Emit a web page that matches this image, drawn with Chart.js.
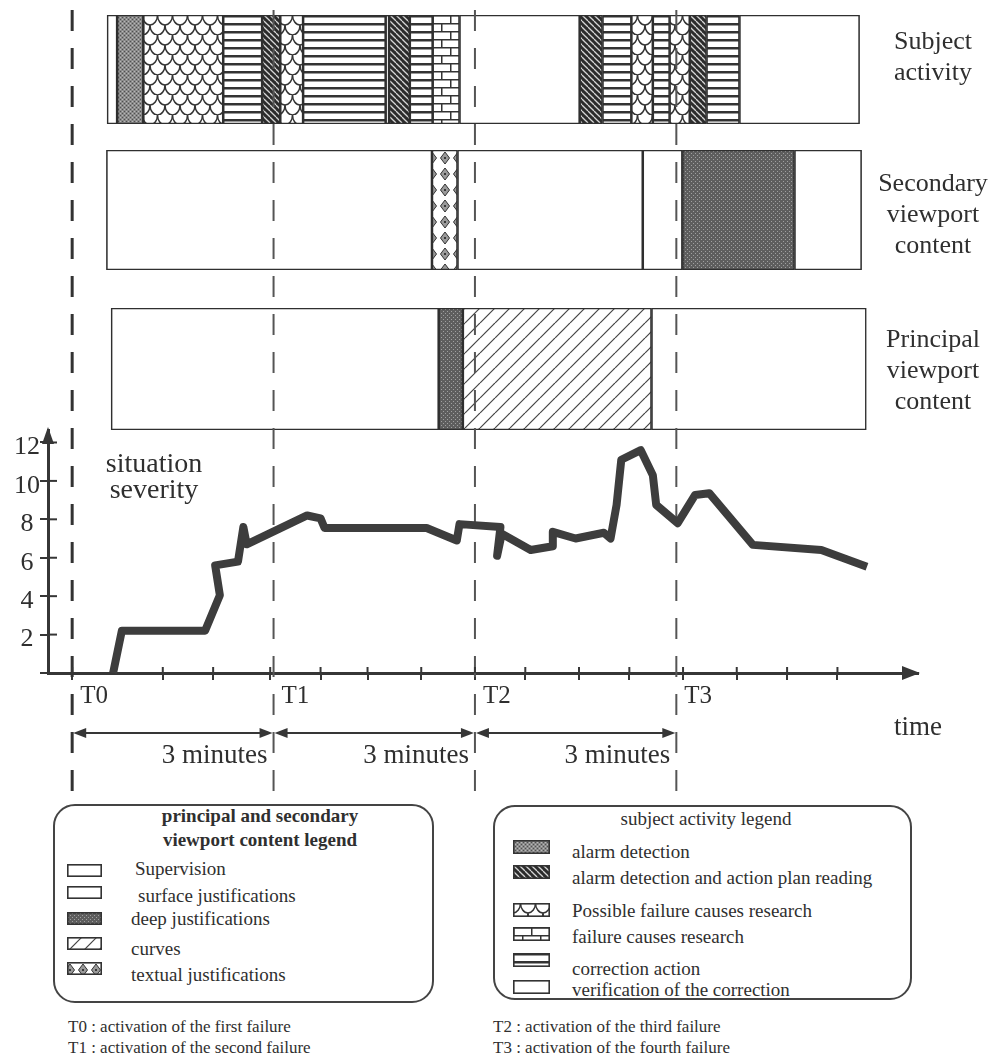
<!DOCTYPE html>
<html>
<head>
<meta charset="utf-8">
<script src="https://cdn.jsdelivr.net/npm/chart.js@4.4.1/dist/chart.umd.min.js"></script>
<style>
html,body{margin:0;padding:0;background:#fff;}
#page{position:relative;width:997px;height:1062px;overflow:hidden;background:#fff;
  font-family:"Liberation Serif","DejaVu Serif",serif;color:#2f2f2f;}
#page canvas{position:absolute;left:0;}
.lbl{position:absolute;text-align:center;font-size:26px;line-height:31px;white-space:nowrap;}
.box{position:absolute;border:2px solid #444;border-radius:22px;box-sizing:border-box;}
.t{position:absolute;white-space:nowrap;line-height:1;}
</style>
</head>
<body>
<div id="page">
  <canvas id="s1" width="997" height="109" style="top:15px"></canvas>
  <canvas id="s2" width="997" height="120" style="top:150px"></canvas>
  <canvas id="s3" width="997" height="122" style="top:308px"></canvas>
  <canvas id="sev" width="997" height="800" style="top:0;z-index:5"></canvas>
</div>
<script>
// ================= DATA =================
// time in minutes after T0
const timeTicks = [0, 1.35, 2.1, 2.95, 3.7, 4.4, 5.2, 6.0, 6.75, 7.55, 8.3, 9.1, 9.9, 10.65, 11.4];
const severityTicks = [0, 2, 4, 6, 8, 10, 12];
const failureTimes = [0, 3, 6, 9];
const failureLabels = ['T0', 'T1', 'T2', 'T3'];
const intervalLabel = '3 minutes';

const severityTime  = [0.61, 0.74, 1.98, 2.20, 2.13, 2.47, 2.55, 2.60, 3.05, 3.50, 3.70, 3.76, 5.28, 5.73, 5.77, 6.38, 6.33, 6.40, 6.83, 7.16, 7.16, 7.50, 7.92, 8.02, 8.11, 8.18, 8.47, 8.65, 8.70, 9.02, 9.28, 9.49, 10.14, 11.16, 11.84];
const severityValue = [0,    2.2,  2.2,  4.05, 5.6,  5.8,  7.6,  6.7,  7.45, 8.2,  8.05, 7.55, 7.55, 6.9,  7.75, 7.6,  6.1,  7.25, 6.4,  6.6,  7.35, 7.0,  7.3,  7.0,  8.75, 11.1, 11.6, 10.3, 8.75, 7.8,  9.27, 9.36, 6.67, 6.4,  5.53];

const stripLabels = [['Subject', 'activity'], ['Secondary', 'viewport', 'content'], ['Principal', 'viewport', 'content']];

const subjectBounds   = [0.52, 0.67, 1.06, 2.25, 2.83, 3.10, 3.44, 4.67, 4.72, 5.03, 5.37, 5.77, 7.56, 7.90, 8.33, 8.65, 8.90, 9.20, 9.45, 9.94, 11.73];
const subjectActivity = ['verification', 'alarm', 'possible', 'correction', 'alarmPlan', 'possible', 'correction', 'verification', 'alarmPlan', 'correction', 'failure', 'verification', 'alarmPlan', 'correction', 'possible', 'correction', 'possible', 'alarmPlan', 'correction', 'verification'];

const secondaryBounds  = [0.51, 5.36, 5.74, 8.50, 9.09, 10.76, 11.76];
const secondaryContent = ['supervision', 'textual', 'surface', 'supervision', 'deep', 'supervision'];

const principalBounds  = [0.58, 5.46, 5.82, 8.63, 11.83];
const principalContent = ['supervision', 'deep', 'curves', 'supervision'];

const viewportLegendTitle  = ['principal and secondary', 'viewport content legend'];
const viewportLegendTypes  = ['supervision', 'surface', 'deep', 'curves', 'textual'];
const viewportLegendLabels = ['Supervision', 'surface justifications', 'deep justifications', 'curves', 'textual justifications'];

const activityLegendTitle  = 'subject activity legend';
const activityLegendTypes  = ['alarm', 'alarmPlan', 'possible', 'failure', 'correction', 'verification'];
const activityLegendLabels = ['alarm detection', 'alarm detection and action plan reading', 'Possible failure causes research', 'failure causes research', 'correction action', 'verification of the correction'];

const footLeft  = ['T0 : activation of the first failure', 'T1 : activation of the second failure'];
const footRight = ['T2 : activation of the third failure', 'T3 : activation of the fourth failure'];

// ================= STYLE =================
const X_MIN = -0.36, X_MAX = 12.6;
const INK = '#363636';
const SERIF = '"Liberation Serif", "DejaVu Serif", serif';
Chart.defaults.font.family = SERIF;
Chart.defaults.color = '#2f2f2f';

function tile(w, h, draw) {
  const c = document.createElement('canvas'); c.width = w; c.height = h;
  const g = c.getContext('2d'); g.fillStyle = '#fff'; g.fillRect(0, 0, w, h); draw(g, w, h); return c;
}
const TILES = {
  alarm: tile(4, 4, g => { g.fillStyle = '#8a8a8a'; g.fillRect(0, 0, 4, 4); g.fillStyle = '#505050'; g.fillRect(0, 0, 1, 1); g.fillRect(2, 2, 1, 1); g.fillStyle = '#b8b8b8'; g.fillRect(2, 0, 1, 1); g.fillRect(0, 2, 1, 1); }),
  deep: tile(4, 4, g => { g.fillStyle = '#5e5e5e'; g.fillRect(0, 0, 4, 4); g.fillStyle = '#a0a0a0'; g.fillRect(1, 1, 1, 1); g.fillRect(3, 3, 1, 1); }),
  alarmPlan: tile(6, 6, g => { g.fillStyle = '#2c2c2c'; g.fillRect(0, 0, 6, 6); g.strokeStyle = '#d5d5d5'; g.lineWidth = 1.3; for (const k of [-6, 0, 6]) { g.beginPath(); g.moveTo(k, 0); g.lineTo(k + 6, 6); g.stroke(); } }),
  curves: tile(15, 15, g => { g.strokeStyle = '#444'; g.lineWidth = 1.2; for (const k of [-15, 0, 15]) { g.beginPath(); g.moveTo(k, 15); g.lineTo(k + 15, 0); g.stroke(); } }),
  correction: tile(8, 8, g => { g.fillStyle = '#333'; g.fillRect(0, 0, 8, 2.5); }),
  possible: tile(15, 20, g => { g.strokeStyle = '#333'; g.lineWidth = 1.5; for (const [cx, cy] of [[0, 0], [15, 0], [7.5, 10]]) { g.beginPath(); g.ellipse(cx, cy, 7.5, 10, 0, 0, Math.PI); g.stroke(); } }),
  failure: tile(18, 16, g => { g.strokeStyle = '#333'; g.lineWidth = 1.5; g.beginPath(); g.moveTo(0, 0.75); g.lineTo(18, 0.75); g.moveTo(0, 8.75); g.lineTo(18, 8.75); g.moveTo(0.75, 0); g.lineTo(0.75, 8.75); g.moveTo(9.75, 8.75); g.lineTo(9.75, 16); g.stroke(); }),
  textual: tile(13, 16, g => { for (const cx of [3, 16]) { g.beginPath(); g.moveTo(cx, 2); g.lineTo(cx + 4.5, 8); g.lineTo(cx, 14); g.lineTo(cx - 4.5, 8); g.closePath(); g.fillStyle = '#9a9a9a'; g.fill(); g.strokeStyle = '#333'; g.lineWidth = 1; g.stroke(); g.fillStyle = '#3a3a3a'; g.fillRect(cx - 1, 7, 2, 2); } })
};
function fillFor(ctx, type) { return TILES[type] ? ctx.createPattern(TILES[type], 'repeat') : '#ffffff'; }

// ================= STRIPS =================
function stripChart(id, labelLines, bounds, types) {
  const ctx = document.getElementById(id).getContext('2d');
  const label = labelLines.join(' ');
  return new Chart(ctx, {
    type: 'bar',
    data: {
      labels: [label],
      datasets: [{
        data: types.map((t, i) => ({ x: [bounds[i], bounds[i + 1]], y: label })),
        backgroundColor: types.map(t => fillFor(ctx, t)),
        borderColor: '#2f2f2f', borderWidth: 1.6, borderSkipped: false,
        barPercentage: 1, categoryPercentage: 1
      }]
    },
    options: {
      indexAxis: 'y', responsive: false, animation: false, events: [],
      layout: { padding: { left: 48, right: 79, top: 0, bottom: 0 } },
      plugins: { legend: { display: false }, tooltip: { enabled: false } },
      scales: {
        x: { type: 'linear', min: X_MIN, max: X_MAX, display: false },
        y: { type: 'category', display: false }
      }
    }
  });
}
stripChart('s1', stripLabels[0], subjectBounds, subjectActivity);
stripChart('s2', stripLabels[1], secondaryBounds, secondaryContent);
stripChart('s3', stripLabels[2], principalBounds, principalContent);

// ================= SEVERITY =================
const sevDecor = {
  id: 'sevDecor',
  beforeDatasetsDraw(chart) {
    const { ctx, scales: { x } } = chart;
    ctx.save();
    failureTimes.forEach((t, i) => {
      const px = x.getPixelForValue(t);
      ctx.beginPath(); ctx.setLineDash([21, 17]);
      ctx.lineWidth = i === 0 ? 3 : 2; ctx.strokeStyle = i === 0 ? '#333' : '#555';
      ctx.moveTo(px, 10); ctx.lineTo(px, 795); ctx.stroke();
    });
    ctx.restore();
  },
  afterDraw(chart) {
    const { ctx, chartArea: a, scales: { x, y } } = chart;
    ctx.save();
    ctx.setLineDash([]); ctx.strokeStyle = INK; ctx.fillStyle = INK; ctx.lineWidth = 2;
    x.ticks.forEach(t => { const px = x.getPixelForValue(t.value); ctx.beginPath(); ctx.moveTo(px, a.bottom); ctx.lineTo(px, a.bottom - 6); ctx.stroke(); });
    y.ticks.forEach(t => { if (t.value === 0) return; const py = y.getPixelForValue(t.value); ctx.beginPath(); ctx.moveTo(a.left, py); ctx.lineTo(a.left + 9, py); ctx.stroke(); });
    // arrowheads
    ctx.beginPath(); ctx.moveTo(a.right + 2, a.bottom); ctx.lineTo(a.right - 16, a.bottom - 7); ctx.lineTo(a.right - 16, a.bottom + 7); ctx.closePath(); ctx.fill();
    ctx.beginPath(); ctx.moveTo(a.left, a.top - 3); ctx.lineTo(a.left - 6, a.top + 14); ctx.lineTo(a.left + 6, a.top + 14); ctx.closePath(); ctx.fill();
    // texts
    ctx.fillStyle = '#2f2f2f'; ctx.textBaseline = 'alphabetic';
    ctx.font = '25px ' + SERIF; ctx.textAlign = 'left';
    failureTimes.forEach((t, i) => ctx.fillText(failureLabels[i], x.getPixelForValue(t) + 8, a.bottom + 30));
    ctx.font = '27px ' + SERIF;
    ctx.fillText('time', a.right - 24, a.bottom + 62);
    ctx.font = '28px ' + SERIF; ctx.textAlign = 'center';
    ctx.fillText('situation', a.left + 106, a.top + 42);
    ctx.fillText('severity', a.left + 106, a.top + 68);
    // interval arrows
    ctx.font = '27px ' + SERIF;
    for (let i = 0; i < failureTimes.length - 1; i++) {
      const p0 = x.getPixelForValue(failureTimes[i]), p1 = x.getPixelForValue(failureTimes[i + 1]);
      const ay = a.bottom + 60;
      ctx.strokeStyle = INK; ctx.fillStyle = INK; ctx.lineWidth = 2;
      ctx.beginPath(); ctx.moveTo(p0 + 4, ay); ctx.lineTo(p1 - 4, ay); ctx.stroke();
      ctx.beginPath(); ctx.moveTo(p0 + 1, ay); ctx.lineTo(p0 + 14, ay - 5); ctx.lineTo(p0 + 14, ay + 5); ctx.closePath(); ctx.fill();
      ctx.beginPath(); ctx.moveTo(p1 - 1, ay); ctx.lineTo(p1 - 14, ay - 5); ctx.lineTo(p1 - 14, ay + 5); ctx.closePath(); ctx.fill();
      ctx.fillStyle = '#2f2f2f'; ctx.textAlign = 'right';
      ctx.fillText(intervalLabel, p1 - 6, a.bottom + 90);
    }
    ctx.restore();
  }
};

new Chart(document.getElementById('sev').getContext('2d'), {
  type: 'line',
  data: {
    datasets: [{
      data: severityTime.map((t, i) => ({ x: t, y: severityValue[i] })),
      borderColor: '#3d3d3d', borderWidth: 8, pointRadius: 0, tension: 0, fill: false,
      borderJoinStyle: 'round', borderCapStyle: 'butt', clip: false
    }]
  },
  options: {
    responsive: false, animation: false, events: [],
    layout: { padding: { left: 0, right: 79, top: 430, bottom: 117 } },
    plugins: { legend: { display: false }, tooltip: { enabled: false } },
    scales: {
      x: {
        type: 'linear', min: X_MIN, max: X_MAX,
        afterBuildTicks: s => { s.ticks = timeTicks.map(v => ({ value: v })); },
        afterFit: s => { s.height = 10; },
        ticks: { callback: () => '', autoSkip: false, maxRotation: 0 },
        grid: { drawOnChartArea: false, tickLength: 7, color: INK, lineWidth: 2 },
        border: { display: true, color: INK, width: 3 }
      },
      y: {
        type: 'linear', min: 0, max: 12.65,
        afterBuildTicks: s => { s.ticks = severityTicks.map(v => ({ value: v })); },
        afterFit: s => { s.width = 48; },
        ticks: { callback: v => (v === 0 ? '' : String(v)), crossAlign: 'center', padding: 0, labelOffset: 5, autoSkip: false, color: '#2f2f2f', font: { size: 26, family: SERIF } },
        grid: { drawOnChartArea: false, tickLength: 8, color: INK, lineWidth: 2 },
        border: { display: true, color: INK, width: 3 }
      }
    }
  },
  plugins: [sevDecor]
});

// ================= HTML TEXT & LEGENDS =================
const page = document.getElementById('page');
function addText(txt, left, baseline, size, extra) {
  const d = document.createElement('div'); d.className = 't'; d.textContent = txt;
  d.style.left = left + 'px'; d.style.top = (baseline - 0.84 * size) + 'px'; d.style.fontSize = size + 'px';
  if (extra) Object.assign(d.style, extra);
  page.appendChild(d); return d;
}
function addSwatch(type, left, top, w, h) {
  const c = document.createElement('canvas'); c.width = w; c.height = h;
  c.style.left = left + 'px'; c.style.top = top + 'px'; c.style.zIndex = 6;
  const g = c.getContext('2d'); g.fillStyle = fillFor(g, type); g.fillRect(0, 0, w, h);
  g.strokeStyle = '#333'; g.lineWidth = 1.6; g.strokeRect(0.8, 0.8, w - 1.6, h - 1.6);
  page.appendChild(c);
}
function addBox(l, t, w, h) { const b = document.createElement('div'); b.className = 'box'; Object.assign(b.style, { left: l + 'px', top: t + 'px', width: w + 'px', height: h + 'px' }); page.appendChild(b); }

// strip labels
const stripLabelTops = [25, 167, 323];
stripLabels.forEach((lines, i) => {
  const d = document.createElement('div'); d.className = 'lbl';
  d.style.left = '863px'; d.style.width = '140px'; d.style.top = stripLabelTops[i] + 'px';
  d.innerHTML = lines.join('<br>'); page.appendChild(d);
});

// left legend
addBox(53, 804, 381, 199);
addText(viewportLegendTitle[0], 140, 822, 19, { width: '240px', textAlign: 'center', fontWeight: 'bold' });
addText(viewportLegendTitle[1], 140, 846, 19, { width: '240px', textAlign: 'center', fontWeight: 'bold' });
const vSw = [864, 886, 912, 937, 962];
const vTx = [[135, 875], [138, 902], [131, 925], [131, 955], [131, 981]];
viewportLegendTypes.forEach((t, i) => { addSwatch(t, 67, vSw[i], 35, 13); addText(viewportLegendLabels[i], vTx[i][0], vTx[i][1], 19); });

// right legend
addBox(493, 805, 419, 195);
addText(activityLegendTitle, 600, 825, 19, { width: '212px', textAlign: 'center' });
const aSw = [840, 865, 903, 927, 953, 980];
const aTx = [858, 884, 917, 943, 975, 996];
activityLegendTypes.forEach((t, i) => { addSwatch(t, 513, aSw[i], 37, 14); addText(activityLegendLabels[i], 572, aTx[i], 19); });

// footnotes
footLeft.forEach((s, i) => addText(s, 68, 1032 + i * 21, 17));
footRight.forEach((s, i) => addText(s, 493, 1032 + i * 21, 17));
</script>
</body>
</html>
